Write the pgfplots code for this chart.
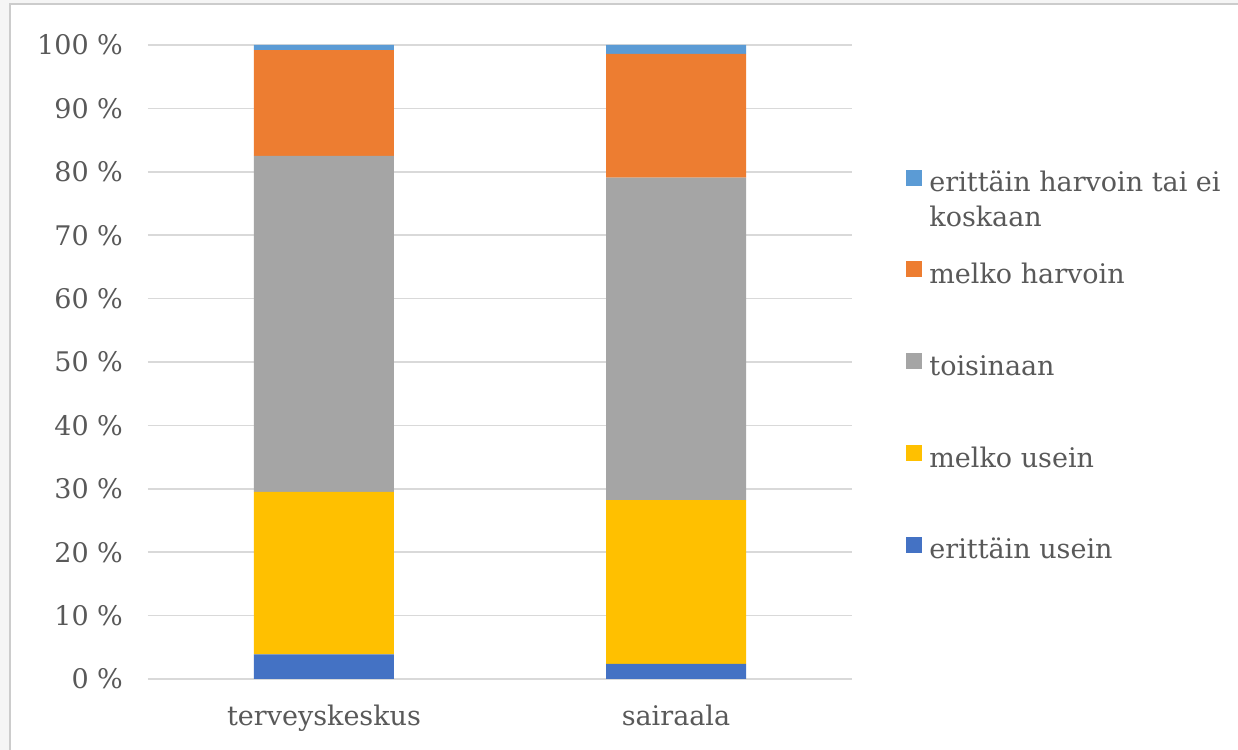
\documentclass[border=0pt]{standalone}
\usepackage{pgfplots}
\pgfplotsset{compat=1.18}
\usepackage{fontspec}
\setmainfont{DejaVu Serif}
\definecolor{eu}{HTML}{4472C4}
\definecolor{mu}{HTML}{FFC000}
\definecolor{to}{HTML}{A5A5A5}
\definecolor{mh}{HTML}{ED7D31}
\definecolor{eh}{HTML}{5B9BD5}
\definecolor{txt}{HTML}{595959}
\definecolor{grd}{HTML}{D9D9D9}
\begin{document}
\begin{tikzpicture}
% page frame, axis box starts at (0,0)
\fill[gray!8] (-74pt,-35.5pt) rectangle (545pt,339.5pt);
\fill[white,draw=gray!40,line width=0.8pt] (-69pt,-40pt) rectangle (550pt,337.5pt);
\begin{axis}[
  name=ax, at={(0,0)}, anchor=south west,
  scale only axis, width=352pt, height=317pt,
  ybar stacked, bar width=70pt,
  xmin=-0.5, xmax=1.5, ymin=0, ymax=100,
  xtick={0,1}, xticklabels={terveyskeskus,sairaala},
  ytick={0,10,...,100},
  yticklabel={\pgfmathprintnumber[assume math mode=true]{\tick}~\%},
  ymajorgrids, grid style={color=grd, line width=0.75pt},
  axis line style={draw=none}, major tick length=0pt,
  tick label style={font=\fontsize{13.5}{16}\selectfont, text=txt},
  yticklabel style={xshift=-9pt},
  xticklabel style={yshift=-9.5pt},
  reverse legend,
  legend style={at={(rel axis cs:1.0767,0.804)}, anchor=north west,
    draw=none, fill=none, inner sep=0pt, row sep=31.9pt,
    font=\fontsize{13.5}{16}\selectfont, text=txt,
    nodes={inner sep=0pt, text height=10pt, text depth=3pt},
    cells={anchor=west},
    /tikz/every odd column/.append style={column sep=3.5pt}},
  legend image code/.code={\fill[#1] (0pt,-0.5pt) rectangle (8pt,7.5pt);},
]
\addplot[fill=eu, draw=none] coordinates {(0,3.9) (1,2.4)};
\addlegendentry{erittäin usein}
\addplot[fill=mu, draw=none] coordinates {(0,25.6) (1,25.8)};
\addlegendentry{melko usein}
\addplot[fill=to, draw=none] coordinates {(0,53.0) (1,50.9)};
\addlegendentry{toisinaan}
\addplot[fill=mh, draw=none] coordinates {(0,16.7) (1,19.5)};
\addlegendentry{melko harvoin}
\addplot[fill=eh, draw=none] coordinates {(0,0.8) (1,1.4)};
\addlegendentry{\begin{tabular}[t]{@{}l@{}}erittäin harvoin tai ei\\[1.5pt]koskaan\end{tabular}}
\end{axis}
\pgfresetboundingbox
\path[use as bounding box] (-74pt,-35.5pt) rectangle (545pt,339.5pt);
\end{tikzpicture}
\end{document}
